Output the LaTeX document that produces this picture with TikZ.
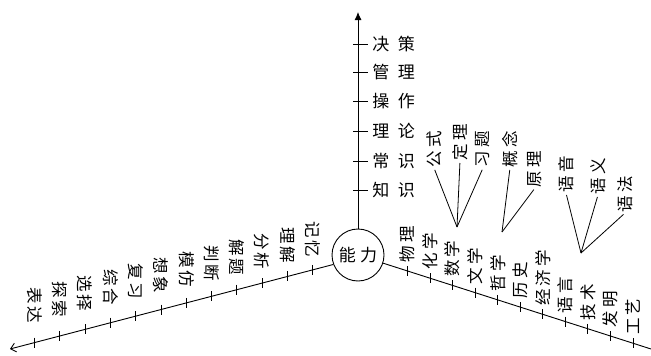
\documentclass[tikz,border=0pt]{standalone}
\usepackage{fontspec}
\newfontfamily\cjk{Noto Sans CJK SC}
\usetikzlibrary{arrows.meta,calc}
\begin{document}
\begin{tikzpicture}[x=1pt,y=-1pt,line width=0.9pt,
  axislbl/.style={font=\cjk\fontsize{17}{17}\selectfont,inner sep=0pt,anchor=west},
  collbl/.style={font=\cjk\fontsize{16.5}{16.5}\selectfont,inner sep=0pt},
  downlbl/.style={collbl,rotate=-90,anchor=east},
  uplbl/.style={collbl,rotate=90,anchor=west},
  link/.style={line width=0.8pt}]
\useasboundingbox (0,0) rectangle (651,356);
% centre
\node[circle,draw,minimum size=52pt,inner sep=0pt,font=\cjk\fontsize{17}{17}\selectfont] (c) at (358,255) {能\hspace{0.25em}力};
% vertical axis
\coordinate (vtop) at (358,12);
\draw[-{Latex[length=8pt,width=7pt]}] (c.north) -- (vtop);
\foreach \y/\a/\b [count=\k] in {190/知/识,161/常/识,131/理/论,101/操/作,72/管/理,44/决/策}{
  \coordinate (vt\k) at (358,\y);
  \draw ([xshift=-5pt]vt\k) -- ([xshift=10pt]vt\k);
  \node[axislbl] (v\k) at ([xshift=14pt]vt\k) {\a\hspace{0.5em}\b};
}
% left axis
\coordinate (L1) at (10,349);
\draw[-{Straight Barb[length=5pt,width=9pt]}] (c.201) -- (L1);
\foreach \a/\b [count=\k from 0] in {记/忆,理/解,分/析,解/题,判/断,模/仿,想/象,复/习,综/合,选/择,探/索,表/达}{
  \coordinate (lt\k) at ($(c.201)!{(20.7+25.3*\k)/323.7}!(L1)$);
  \draw ([yshift=5pt]lt\k) -- ([yshift=-5pt]lt\k);
  \node[downlbl] (l\k) at ([yshift={12+0.6*\k}]lt\k) {\a\hspace{0.2em}\b};
}
% right axis
\coordinate (R1) at (651,349);
\draw (c.-18) -- (R1);
\foreach \k in {0,...,10}{
  \coordinate (rt\k) at ($(c.-18)!{(24.3+22.6*\k)/268.3}!(R1)$);
  \draw ([yshift=5pt]rt\k) -- ([yshift=-5pt]rt\k);
}
\foreach \a/\b [count=\k from 0] in {物/理,化/学,数/学,文/学,哲/学,历/史}{
  \node[uplbl] (r\k) at ([yshift=8pt]rt\k) {\a\hspace{0.2em}\b};
}
\node[uplbl] (r6) at ([yshift=8pt]rt6) {经\hspace{0.2em}济\hspace{0.2em}学};
\foreach \a/\b [count=\k from 7] in {语/言,技/术,发/明,工/艺}{
  \node[uplbl] (r\k) at ([yshift=8pt]rt\k) {\a\hspace{0.2em}\b};
}
% sub-labels
\node[uplbl] (s1) at (434,168) {公\hspace{0.2em}式};
\node[uplbl] (s2) at (460,161) {定\hspace{0.2em}理};
\node[uplbl] (s3) at (483,168) {习\hspace{0.2em}题};
\node[uplbl] (s4) at (510,168) {概\hspace{0.2em}念};
\node[uplbl] (s5) at (535,188) {原\hspace{0.2em}理};
\node[uplbl] (s6) at (566,193) {语\hspace{0.2em}音};
\node[uplbl] (s7) at (598,195) {语\hspace{0.2em}义};
\node[uplbl] (s8) at (625,213) {语\hspace{0.2em}法};
\coordinate (m1) at (457,227);
\coordinate (m2) at (502,232);
\coordinate (m3) at (581,253);
\foreach \s in {s1,s2,s3}{\draw[link,shorten <=2pt] (\s.west) -- (m1);}
\foreach \s in {s4,s5}{\draw[link,shorten <=2pt] (\s.west) -- (m2);}
\foreach \s in {s6,s7,s8}{\draw[link,shorten <=2pt] (\s.west) -- (m3);}
\end{tikzpicture}
\end{document}
